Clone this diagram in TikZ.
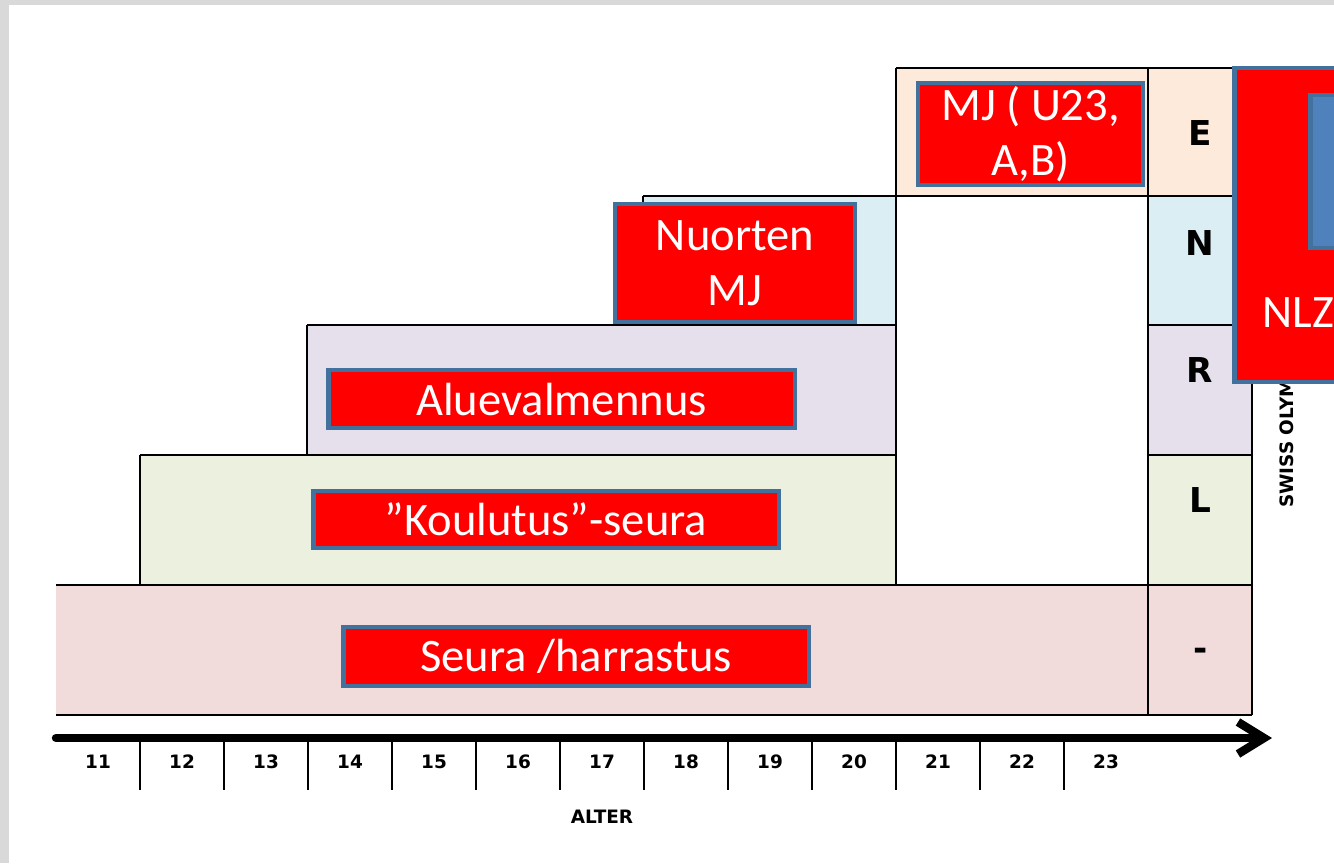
\documentclass[tikz,border=0pt]{standalone}
\usepackage{fontspec}
\usepackage{tikz}
\usetikzlibrary{arrows.meta,backgrounds}
\newfontfamily\boxfont{Carlito}
\newfontfamily\gridfont{DejaVu Sans}
\definecolor{framegray}{HTML}{D9D9D9}
\definecolor{seurapink}{HTML}{F2DCDB}
\definecolor{koulgreen}{HTML}{EBF1DE}
\definecolor{aluelav}{HTML}{E5E0EC}
\definecolor{nuorblue}{HTML}{DBEEF4}
\definecolor{mjpeach}{HTML}{FDEADA}
\definecolor{boxedge}{HTML}{41719C}
\definecolor{nlzblue}{HTML}{4F81BD}
\newcommand{\gridwidth}{0.85pt}
\newcommand{\edgewidth}{2.8pt}
\tikzset{
  redbox/.style={fill=red, draw=boxedge, line width=\edgewidth, text=white,
    font=\boxfont\fontsize{26.5}{31.5}\selectfont, align=center, inner sep=0pt},
  levelmark/.style={font=\gridfont\bfseries\fontsize{19.5}{21}\selectfont},
  agemark/.style={font=\gridfont\bfseries\fontsize{10.5}{12}\selectfont}
}

\begin{document}
\begin{tikzpicture}[x=0.02cm, y=-0.02cm]
\clip (0,0) rectangle (1334,863);
\fill[framegray] (0,0) rectangle (1334,863);
\fill[white] (9,5) rectangle (1334,863);
%bands
\fill[seurapink] (56,585) rectangle (1252,715);
\fill[koulgreen] (140,455) rectangle (896,585);
\fill[koulgreen] (1148,455) rectangle (1252,585);
\fill[aluelav] (307,325) rectangle (896,455);
\fill[aluelav] (1148,325) rectangle (1252,455);
\fill[nuorblue] (643,196) rectangle (896,325);
\fill[nuorblue] (1148,196) rectangle (1252,325);
\fill[mjpeach] (896,68) rectangle (1252,196);
%grid
\draw[line width=\gridwidth] (896,68) -- (1252,68);
\draw[line width=\gridwidth] (643,196) -- (1252,196);
\draw[line width=\gridwidth] (307,325) -- (896,325);
\draw[line width=\gridwidth] (1148,325) -- (1252,325);
\draw[line width=\gridwidth] (140,455) -- (896,455);
\draw[line width=\gridwidth] (1148,455) -- (1252,455);
\draw[line width=\gridwidth] (56,585) -- (1252,585);
\draw[line width=1.4pt] (56,715) -- (1252,715);
\draw[line width=\gridwidth] (140,455) -- (140,585);
\draw[line width=\gridwidth] (307,325) -- (307,455);
\draw[line width=\gridwidth] (643,196) -- (643,325);
\draw[line width=\gridwidth] (896,68) -- (896,585);
\draw[line width=\gridwidth] (1148,68) -- (1148,715);
\draw[line width=\gridwidth] (1252,68) -- (1252,715);
%levels
\node[levelmark] (e) at (1200,133) {E};
\node[levelmark] (n) at (1200,243) {N};
\node[levelmark] (r) at (1200,370) {R};
\node[levelmark] (l) at (1200,500) {L};
\node[levelmark] (none) at (1201,654) {-};
\node[agemark, rotate=90, anchor=west, inner sep=0pt] (swiss) at (1287,508) {SWISS OLYMPIC};
%axis
\coordinate (axisstart) at (56,738);
\coordinate (axisend) at (1272,738);
\draw[line width=4.8pt, line cap=round, -{Straight Barb[length=0.52cm, width=0.64cm]}] (axisstart) -- (axisend);
\draw[line width=1.4pt] (140,738) -- (140,790);
\draw[line width=1.4pt] (224,738) -- (224,790);
\draw[line width=1.4pt] (308,738) -- (308,790);
\draw[line width=1.4pt] (392,738) -- (392,790);
\draw[line width=1.4pt] (476,738) -- (476,790);
\draw[line width=1.4pt] (560,738) -- (560,790);
\draw[line width=1.4pt] (644,738) -- (644,790);
\draw[line width=1.4pt] (728,738) -- (728,790);
\draw[line width=1.4pt] (812,738) -- (812,790);
\draw[line width=1.4pt] (896,738) -- (896,790);
\draw[line width=1.4pt] (980,738) -- (980,790);
\draw[line width=1.4pt] (1064,738) -- (1064,790);
\node[agemark] (a11) at (98,762) {11};
\node[agemark] (a12) at (182,762) {12};
\node[agemark] (a13) at (266,762) {13};
\node[agemark] (a14) at (350,762) {14};
\node[agemark] (a15) at (434,762) {15};
\node[agemark] (a16) at (518,762) {16};
\node[agemark] (a17) at (602,762) {17};
\node[agemark] (a18) at (686,762) {18};
\node[agemark] (a19) at (770,762) {19};
\node[agemark] (a20) at (854,762) {20};
\node[agemark] (a21) at (938,762) {21};
\node[agemark] (a22) at (1022,762) {22};
\node[agemark] (a23) at (1106,762) {23};
\node[agemark] (alter) at (602,817) {ALTER};
%boxes
\node[redbox, minimum width=9.32cm, minimum height=1.18cm] (seura) at (576,656.5) {Seura /harrastus};
\node[redbox, minimum width=9.32cm, minimum height=1.14cm] (koulutus) at (546,519.5) {”Koulutus”-seura};
\node[redbox, minimum width=9.34cm, minimum height=1.16cm] (alue) at (561.5,399) {Aluevalmennus};
\node[redbox, minimum width=4.8cm, minimum height=2.36cm] (nuorten) at (735,263) {Nuorten\\MJ};
\node[redbox, minimum width=4.5cm, minimum height=2.04cm] (mj) at (1030.5,134) {MJ ( U23,\\A,B)};
\node[redbox, minimum width=5.32cm, minimum height=6.28cm] (nlz) at (1367,225) {};
\node[fill=nlzblue, draw=boxedge, line width=\edgewidth, minimum width=3.8cm, minimum height=3.06cm] (nlzinner) at (1405,171.5) {};
\node[redbox, draw=none, fill=none, anchor=base west] (nlztext) at (1260,327) {NLZ};
\end{tikzpicture}
\end{document}
